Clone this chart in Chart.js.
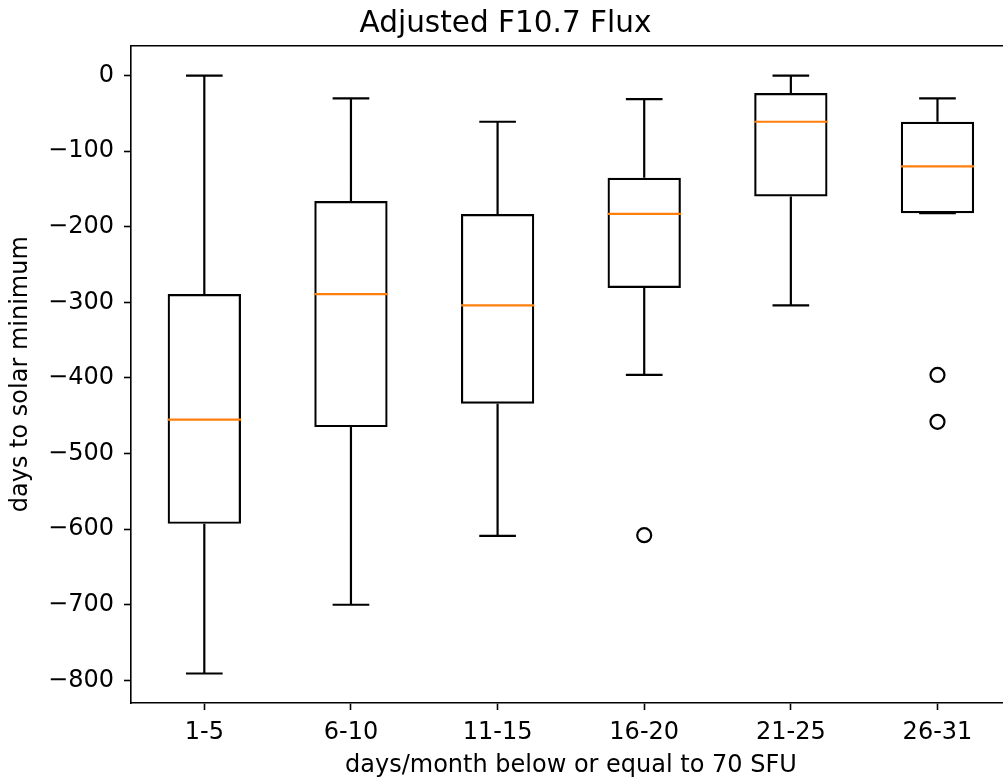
<!DOCTYPE html>
<html>
<head>
<meta charset="utf-8">
<title>Adjusted F10.7 Flux</title>
<script src="https://cdn.jsdelivr.net/npm/chart.js@4/dist/chart.umd.min.js"></script>
<style>
  html, body { margin: 0; padding: 0; background: #fff; overflow: hidden; }
  #wrap { width: 1020px; height: 780px; }
</style>
</head>
<body>
<div id="wrap"><canvas id="fluxChart" width="1020" height="780"></canvas></div>
<script>
// box plot summary per bin of low-flux days
const categories = ["1-5", "6-10", "11-15", "16-20", "21-25", "26-31"];
const whiskerHigh = [0, -30, -61, -31, 0, -30];
const q3 = [-289, -166, -183, -135, -23, -61];
const median = [-455, -289, -304, -183, -61, -120];
const q1 = [-593, -465, -434, -281, -160, -182];
const whiskerLow = [-791, -700, -609, -396, -304, -182];
const outliers = [[], [], [], [-608], [], [-396, -458]];

const BOX_HALF = 0.25;
const CAP_HALF = 0.125;
const LINE_W = 2.2;
const FONT = "DejaVu Sans";

Chart.defaults.font.family = FONT;
Chart.defaults.color = "#000";

// whiskers and caps as one broken line
const whiskerPts = [];
const medianPts = [];
const outlierPts = [];
categories.forEach((c, i) => {
    const x = i + 1;
    whiskerPts.push({ x: x, y: q3[i] }, { x: x, y: whiskerHigh[i] }, { x: x, y: null });
    whiskerPts.push({ x: x - CAP_HALF, y: whiskerHigh[i] }, { x: x + CAP_HALF, y: whiskerHigh[i] }, { x: x, y: null });
    whiskerPts.push({ x: x, y: q1[i] }, { x: x, y: whiskerLow[i] }, { x: x, y: null });
    whiskerPts.push({ x: x - CAP_HALF, y: whiskerLow[i] }, { x: x + CAP_HALF, y: whiskerLow[i] }, { x: x, y: null });
    medianPts.push({ x: x - BOX_HALF, y: median[i] }, { x: x + BOX_HALF, y: median[i] }, { x: x, y: null });
    outliers[i].forEach(v => outlierPts.push({ x: x, y: v }));
});

const boxes = categories.map((c, i) => ({ x: i + 1, y: [q1[i], q3[i]] }));

const ctx = document.getElementById("fluxChart").getContext("2d");
new Chart(ctx, {
    type: "bar",
    data: {
        datasets: [
            {
                type: "line",
                data: whiskerPts,
                borderColor: "#000",
                borderWidth: LINE_W,
                pointRadius: 0,
                spanGaps: false,
                order: 3
            },
            {
                type: "bar",
                data: boxes,
                backgroundColor: "rgba(255,255,255,0)",
                borderColor: "#000",
                borderWidth: LINE_W,
                borderSkipped: false,
                barPercentage: 0.5,
                categoryPercentage: 1,
                order: 2
            },
            {
                type: "line",
                data: medianPts,
                borderColor: "#ff7f0e",
                borderWidth: LINE_W,
                pointRadius: 0,
                spanGaps: false,
                order: 1
            },
            {
                type: "scatter",
                data: outlierPts,
                pointRadius: 7,
                pointBorderWidth: LINE_W,
                pointBackgroundColor: "rgba(255,255,255,0)",
                pointBorderColor: "#000",
                order: 0
            }
        ]
    },
    options: {
        responsive: false,
        animation: false,
        devicePixelRatio: 1,
        layout: { padding: { left: 0, right: 9, top: 0, bottom: 0 } },
        plugins: {
            legend: { display: false },
            tooltip: { enabled: false },
            title: {
                display: true,
                text: "Adjusted F10.7 Flux",
                color: "#000",
                font: { family: FONT, size: 29.5, weight: "normal" },
                padding: { top: 7, bottom: 3 }
            }
        },
        scales: {
            x: {
                type: "linear",
                position: "bottom",
                offset: false,
                min: 0.5,
                max: 6.5,
                afterBuildTicks: scale => {
                    scale.ticks = categories.map((c, i) => ({ value: i + 1 }));
                },
                afterFit: scale => { scale.height = 77; },
                ticks: {
                    callback: v => categories[v - 1],
                    font: { size: 24 },
                    color: "#000",
                    padding: 8,
                    maxRotation: 0,
                    autoSkip: false
                },
                grid: { offset: false, drawOnChartArea: false, drawTicks: true, tickLength: 7, tickColor: "#000", tickWidth: 1.6 },
                border: { display: true, color: "#000", width: 1.6 },
                title: {
                    display: true,
                    text: "days/month below or equal to 70 SFU",
                    font: { size: 24 },
                    color: "#000",
                    padding: { top: 2, bottom: 0 }
                }
            },
            xTop: {
                type: "linear",
                position: "top",
                offset: false,
                min: 0.5,
                max: 6.5,
                ticks: { display: false },
                grid: { display: false, drawTicks: false },
                border: { display: true, color: "#000", width: 1.6 }
            },
            y: {
                type: "linear",
                min: -830,
                max: 40,
                afterFit: scale => { scale.width = 131; },
                ticks: {
                    stepSize: 100,
                    includeBounds: false,
                    font: { size: 24 },
                    color: "#000",
                    padding: 10,
                    callback: v => v < 0 ? "\u2212" + Math.abs(v) : String(v)
                },
                grid: { drawOnChartArea: false, drawTicks: true, tickLength: 7, tickColor: "#000", tickWidth: 1.6 },
                border: { display: true, color: "#000", width: 1.6 },
                title: {
                    display: true,
                    text: "days to solar minimum",
                    font: { size: 24 },
                    color: "#000",
                    padding: { top: 6, bottom: 0 }
                }
            }
        }
    }
});
</script>
</body>
</html>
